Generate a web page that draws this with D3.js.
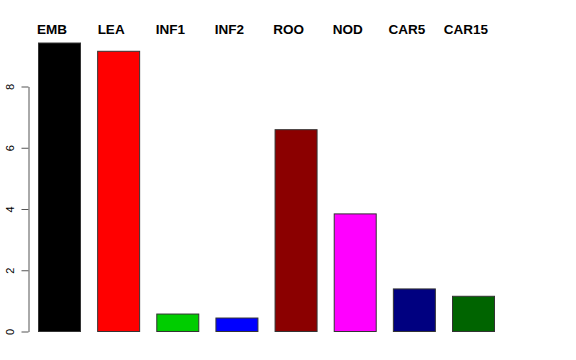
<!DOCTYPE html>
<html>
<head>
<meta charset="utf-8">
<script src="https://cdn.jsdelivr.net/npm/d3@7"></script>
<style>
  body { margin: 0; background: white; }
</style>
</head>
<body>
<div id="chart"></div>
<script>
// tissue categories and their values
var categories = ["EMB", "LEA", "INF1", "INF2", "ROO", "NOD", "CAR5", "CAR15"];
var values = [9.42, 9.15, 0.57, 0.44, 6.59, 3.84, 1.39, 1.15];
var colors = ["#000000", "#FF0000", "#00CD00", "#0000FF", "#8B0000", "#FF00FF", "#000080", "#006400"];
var yTicks = [0, 2, 4, 6, 8];

var width = 576,
	height = 360;

var svg = d3.select("#chart").append("svg")
	.attr("width", width)
	.attr("height", height)
	.style("background-color", "white");

var x = d3.scaleBand()
	.domain(categories)
	.range([38, 494])
	.paddingInner(0.29)
	.paddingOuter(0);

var y = d3.scaleLinear()
	.domain([0, 8])
	.range([331, 86]);

// bars
svg.selectAll(".bar")
	.data(categories)
	.enter().append("rect")
	.attr("class", "bar")
	.attr("x", function(d) { return x(d) + 0.5; })
	.attr("y", function(d, i) { return y(values[i]) + 0.5; })
	.attr("width", x.bandwidth())
	.attr("height", function(d, i) { return y(0) - y(values[i]); })
	.style("fill", function(d, i) { return colors[i]; })
	.style("stroke", "#333")
	.style("stroke-width", 1);

// labels on top
svg.selectAll(".lab")
	.data(categories)
	.enter().append("text")
	.attr("class", "lab")
	.attr("x", function(d) { return x(d) + x.bandwidth() / 2 - 7; })
	.attr("y", 34)
	.style("text-anchor", "middle")
	.style("font", "bold 13.5px 'Liberation Sans', Arial, sans-serif")
	.text(function(d) { return d; });

// y axis, R style
var yAxis = d3.axisLeft(y)
	.tickValues(yTicks)
	.tickSize(7)
	.tickPadding(11)
	.tickSizeOuter(0);

var ag = svg.append("g")
	.attr("transform", "translate(28.5,0.5)")
	.call(yAxis);

ag.select(".domain").style("stroke", "#555");
ag.selectAll(".tick line").style("stroke", "#555");
ag.selectAll(".tick text")
	.attr("transform", function(d) { return "translate(-18," + 0 + ") rotate(-90)"; })
	.attr("x", 0)
	.attr("dy", "0.35em")
	.style("text-anchor", "middle")
	.style("font", "11px 'Liberation Sans', Arial, sans-serif")
	.style("fill", "#000");
</script>
</body>
</html>
